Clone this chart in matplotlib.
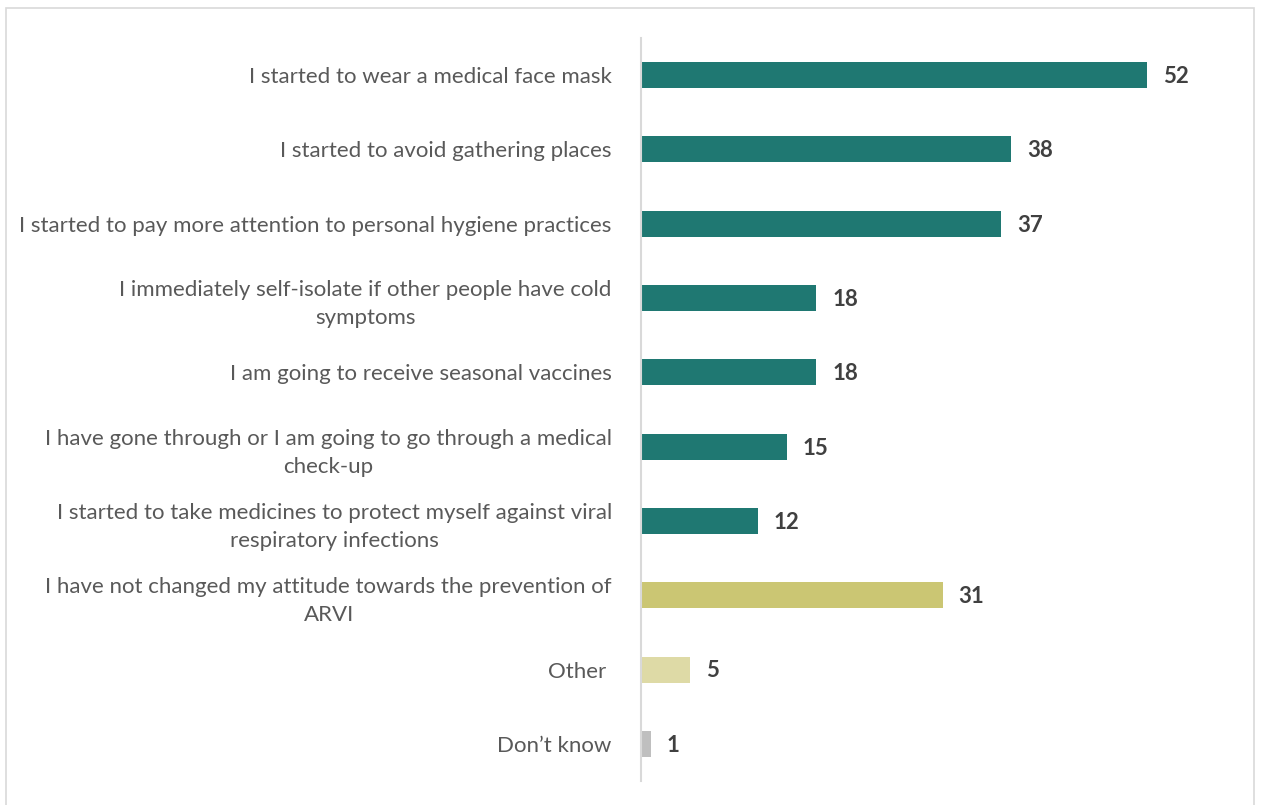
import matplotlib
matplotlib.use('Agg')
import matplotlib.pyplot as plt
from matplotlib.patches import Rectangle

# survey answers, top to bottom
labels = [
    "I started to wear a medical face mask",
    "I started to avoid gathering places",
    "I started to pay more attention to personal hygiene practices",
    "I immediately self-isolate if other people have cold\nsymptoms",
    "I am going to receive seasonal vaccines",
    "I have gone through or I am going to go through a medical\ncheck-up",
    "I started to take medicines to protect myself against viral\nrespiratory infections",
    "I have not changed my attitude towards the prevention of\nARVI",
    "Other ",
    "Don\u2019t know",
]
values = [52, 38, 37, 18, 18, 15, 12, 31, 5, 1]
groups = ["changed"] * 7 + ["unchanged", "other", "dk"]

palette = {
    "changed": "#1F7872",
    "unchanged": "#CBC673",
    "other": "#DEDAA6",
    "dk": "#BFBFBF",
}

plt.rcParams['font.family'] = ['Lato', 'DejaVu Sans']

W, H = 1261, 805
fig = plt.figure(figsize=(W / 100, H / 100), dpi=100)

# light frame round the chart (bottom edge runs off the canvas)
fig.patches.append(Rectangle((5.5 / W, -0.05), 1248.5 / W, (H - 8.5) / H + 0.05,
                             transform=fig.transFigure, fill=False,
                             edgecolor="#D9D9D9", linewidth=1.2))

ax = fig.add_axes([641 / W, 24 / H, 584 / W, 743 / H])

ypos = list(range(len(labels)))
ax.barh(ypos, values, height=0.35,
        color=[palette[g] for g in groups], zorder=2)

for y, v in zip(ypos, values):
    ax.annotate(str(v), (v, y), xytext=(11.5, -1), textcoords="offset points",
                ha="left", va="center", fontsize=16, fontweight="bold",
                color="#404040")

ax.set_xlim(0, 60)
ax.set_ylim(len(labels) - 0.5, -0.5)
ax.set_yticks(ypos)
ax.set_yticklabels(labels, fontsize=16, color="#595959")
for t in ax.get_yticklabels():
    t.set_multialignment("center")
    t.set_linespacing(1.5)
ax.tick_params(axis="y", length=0, pad=21)
ax.set_xticks([])

for s in ["top", "right", "bottom"]:
    ax.spines[s].set_visible(False)
ax.spines["left"].set_color("#D9D9D9")
ax.spines["left"].set_linewidth(1.5)

fig.savefig("out.png", dpi=100)
